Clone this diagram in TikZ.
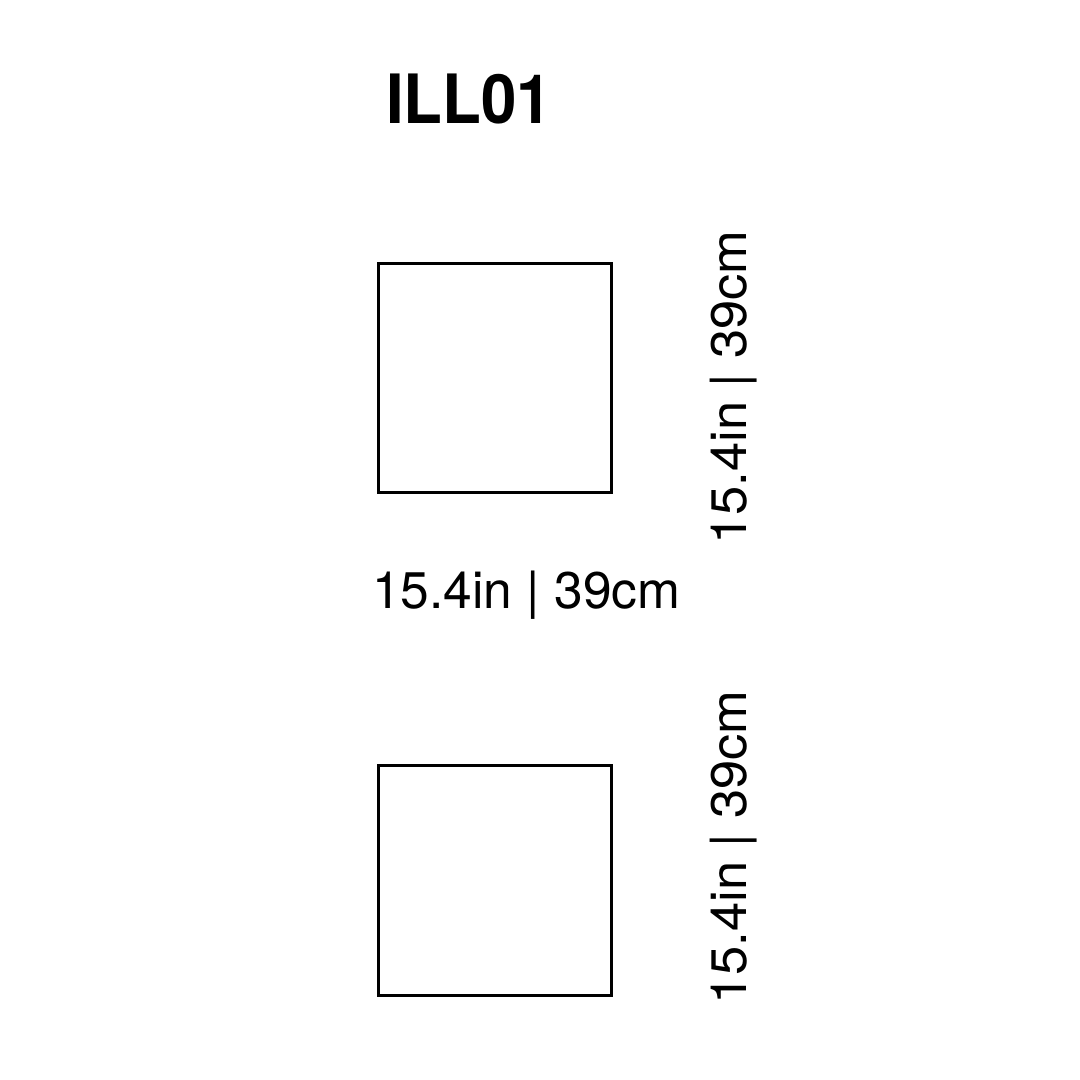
\documentclass[tikz,border=0pt]{standalone}
\usepackage{fontspec}
\setmainfont{TeX Gyre Heros}
\begin{document}
\begin{tikzpicture}[x=1pt,y=-1pt,
  box/.style={draw=black,line width=3pt},
  dimtext/.style={inner sep=0pt,font=\fontsize{51.5}{60}\selectfont},
  titletext/.style={inner sep=0pt,font=\fontsize{68}{80}\selectfont\bfseries}]
\path[use as bounding box,fill=white] (0,0) rectangle (1080,1080);
\node[titletext,anchor=base west] (title) at (386,123) {\scalebox{0.935}[1]{ILL01}};
\draw[box] (378,263) rectangle (611,492);
\node[dimtext,anchor=base west] (hdim) at (372,608) {15.4in | 39cm};
\node[dimtext,anchor=base west,rotate=90] (vdimA) at (746,545) {\scalebox{1.02}[0.97]{15.4in | 39cm}};
\draw[box] (378,765) rectangle (611,995);
\node[dimtext,anchor=base west,rotate=90] (vdimB) at (746,1005) {\scalebox{1.02}[0.97]{15.4in | 39cm}};
\end{tikzpicture}
\end{document}
